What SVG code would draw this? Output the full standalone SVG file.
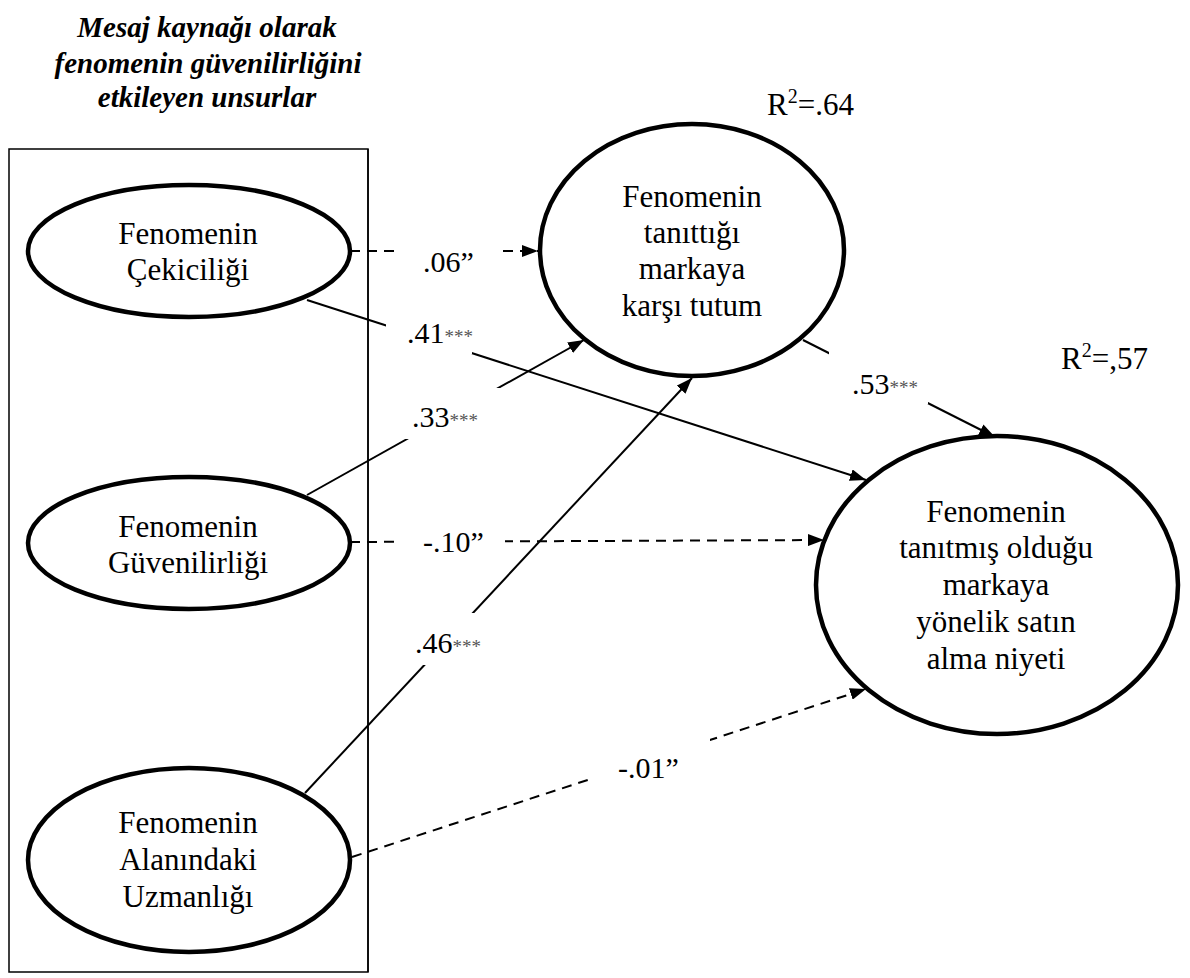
<svg xmlns="http://www.w3.org/2000/svg" width="1190" height="978" viewBox="0 0 1190 978">
<defs>
<style>
text{font-family:'Liberation Serif','Times New Roman',Times,serif}
.node{fill:#fff;stroke:#000;stroke-width:4.5}
.nt{font-size:31px;fill:#000;text-anchor:middle}
.title{font-size:29px;font-weight:bold;font-style:italic;fill:#000;text-anchor:middle}
.lbl{font-size:30px;fill:#000}
.ast{font-size:19px;fill:#555}
.r2{font-size:31px;fill:#000}
.sup{font-size:20px}
.c{fill:none;stroke:#000;stroke-width:2}
.d{stroke-dasharray:10 7}
.box{fill:#fff;stroke:none}
</style>
<marker id="ah" markerUnits="userSpaceOnUse" markerWidth="16" markerHeight="12" refX="16" refY="6" orient="auto">
<path d="M0,0 L16,6 L0,12 z" fill="#000"/>
</marker>
</defs>
<rect width="1190" height="978" fill="#fff"/>

<g id="title" font-family="Liberation Serif, serif">
<text class="title" x="207" y="37">Mesaj kaynağı olarak</text>
<text class="title" x="208" y="73">fenomenin güvenilirliğini</text>
<text class="title" x="207" y="107">etkileyen unsurlar</text>
</g>

<g id="group-box">
<rect x="9" y="149" width="359" height="823" fill="none" stroke="#000" stroke-width="1.5"/>
</g>

<g id="connectors">
<path class="c d" d="M350,251 L538,251" marker-end="url(#ah)"/>
<path class="c" d="M307,300 L866,480" marker-end="url(#ah)"/>
<path class="c" d="M307,495 L584,340" marker-end="url(#ah)"/>
<path class="c d" d="M350,542 L824,540" marker-end="url(#ah)"/>
<path class="c" d="M305,793 L692,378" marker-end="url(#ah)"/>
<path class="c d" d="M352,857 L866,689" marker-end="url(#ah)"/>
<path class="c" d="M803,340 L995,437" marker-end="url(#ah)"/>
</g>

<g id="edge-labels">
<rect class="box" x="398" y="238" width="101" height="47"/>
<text class="lbl" x="423" y="272">.06”</text>
<rect class="box" x="386" y="305" width="86" height="49"/>
<text class="lbl" x="407" y="343">.41<tspan class="ast">***</tspan></text>
<rect class="box" x="404" y="388" width="101" height="51"/>
<text class="lbl" x="412" y="427">.33<tspan class="ast">***</tspan></text>
<rect class="box" x="399" y="518" width="106" height="48"/>
<text class="lbl" x="423" y="552">-.10”</text>
<rect class="box" x="405" y="613" width="85" height="52"/>
<text class="lbl" x="415" y="653">.46<tspan class="ast">***</tspan></text>
<rect class="box" x="588" y="735" width="122" height="51"/>
<text class="lbl" x="618" y="778">-.01”</text>
<rect class="box" x="829" y="345" width="99" height="59"/>
<text class="lbl" x="852" y="394">.53<tspan class="ast">***</tspan></text>
</g>

<g id="node-cekicilik">
<ellipse class="node" cx="189" cy="251" rx="161" ry="66"/>
<text class="nt" x="188" y="244">Fenomenin</text>
<text class="nt" x="188" y="280">Çekiciliği</text>
</g>

<g id="node-guvenilirlik">
<ellipse class="node" cx="189" cy="543" rx="161" ry="66"/>
<text class="nt" x="188" y="537">Fenomenin</text>
<text class="nt" x="188" y="573">Güvenilirliği</text>
</g>

<g id="node-uzmanlik">
<ellipse class="node" cx="189" cy="860" rx="161" ry="92"/>
<text class="nt" x="188" y="833">Fenomenin</text>
<text class="nt" x="188" y="870">Alanındaki</text>
<text class="nt" x="188" y="907">Uzmanlığı</text>
</g>

<g id="node-tutum">
<ellipse class="node" cx="692" cy="250" rx="152" ry="126"/>
<text class="nt" x="692" y="207">Fenomenin</text>
<text class="nt" x="692" y="243">tanıttığı</text>
<text class="nt" x="692" y="279">markaya</text>
<text class="nt" x="692" y="316">karşı tutum</text>
</g>

<g id="node-niyet">
<ellipse class="node" cx="997" cy="585" rx="181" ry="149"/>
<text class="nt" x="996" y="522">Fenomenin</text>
<text class="nt" x="996" y="558">tanıtmış olduğu</text>
<text class="nt" x="996" y="595">markaya</text>
<text class="nt" x="996" y="632">yönelik satın</text>
<text class="nt" x="996" y="669">alma niyeti</text>
</g>

<g id="r2-labels">
<text class="r2" x="767" y="115">R<tspan class="sup" dy="-12">2</tspan><tspan dy="12">=.64</tspan></text>
<text class="r2" x="1061" y="369">R<tspan class="sup" dy="-12">2</tspan><tspan dy="12">=,57</tspan></text>
</g>

<g id="box-edge">
<line x1="368" y1="149" x2="368" y2="972" stroke="#000" stroke-width="1.5"/>
</g>
</svg>
